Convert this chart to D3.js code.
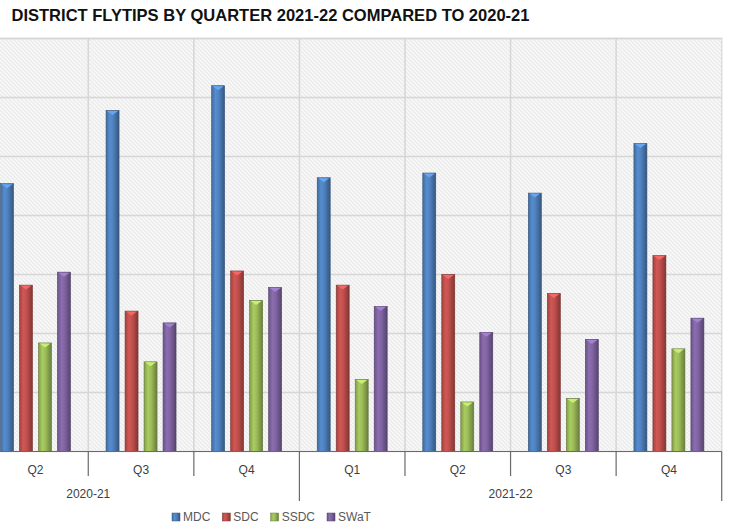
<!DOCTYPE html>
<html>
<head>
<meta charset="utf-8">
<script src="https://cdn.jsdelivr.net/npm/d3@7"></script>
<style>
  html, body { margin: 0; padding: 0; background: #fff; }
  svg { display: block; font-family: "Liberation Sans", Arial, sans-serif; }
</style>
</head>
<body>
<svg id="chart" width="731" height="532"></svg>
<script>
// Quarterly flytip counts per district
const years = ["2020-21", "2021-22"];
const quarters = ["Q2", "Q3", "Q4", "Q1", "Q2", "Q3", "Q4"];
const quarterYear = ["2020-21", "2020-21", "2020-21", "2021-22", "2021-22", "2021-22", "2021-22"];
const series = ["MDC", "SDC", "SSDC", "SWaT"];
const mdc  = [227, 289, 310, 232, 236, 219, 261];
const sdc  = [141, 119, 153, 141, 150, 134, 166];
const ssdc = [92, 76, 128, 61, 42, 45, 87];
const swat = [152, 109, 139, 123, 101, 95, 113];
const seriesValues = [mdc, sdc, ssdc, swat];
const colors = ["#4F81BD", "#C0504D", "#9BBB59", "#8064A2"];
const yTicks = [0, 50, 100, 150, 200, 250, 300, 350];

const title = "DISTRICT FLYTIPS BY QUARTER 2021-22 COMPARED TO 2020-21";

const svg = d3.select("#chart");
const W = 731, H = 532;
const plot = { left: -17.3, right: 721.7, top: 38.5, bottom: 451.5 };

const keys = quarters.map((q, i) => i);
const x0 = d3.scaleBand().domain(keys).range([plot.left, plot.right])
  .paddingInner(0.337).paddingOuter(0.1685);
const x1 = d3.scaleBand().domain(series).range([0, x0.bandwidth()]).paddingInner(0.316);
const y = d3.scaleLinear().domain([0, 350]).range([plot.bottom, plot.top]);

const defs = svg.append("defs");

// diagonal hatch for plot background
const pat = defs.append("pattern").attr("id", "hatch")
  .attr("patternUnits", "userSpaceOnUse").attr("width", 4).attr("height", 4);
pat.append("rect").attr("width", 4).attr("height", 4).attr("fill", "#ebebeb");
pat.append("path").attr("d", "M-1,-1 L5,5 M-1,3 L1,5 M3,-1 L5,1")
  .attr("stroke", "#fafafa").attr("stroke-width", 1.3);

// cylinder-style shading per series
colors.forEach((c, i) => {
  const base = d3.color(c);
  const g = defs.append("linearGradient").attr("id", "grad" + i)
    .attr("x1", "0%").attr("x2", "100%").attr("y1", "0%").attr("y2", "0%");
  g.append("stop").attr("offset", "0%").attr("stop-color", base.darker(0.5));
  g.append("stop").attr("offset", "30%").attr("stop-color", base.brighter(0.25));
  g.append("stop").attr("offset", "55%").attr("stop-color", base);
  g.append("stop").attr("offset", "100%").attr("stop-color", base.darker(1.1));
});

defs.append("clipPath").attr("id", "plotClip")
  .append("rect").attr("x", 0).attr("y", 0).attr("width", W).attr("height", H);

// title
svg.append("text")
  .attr("x", 11.5).attr("y", 21)
  .attr("font-size", 16.5).attr("font-weight", "bold").attr("fill", "#111")
  .attr("textLength", 518).attr("lengthAdjust", "spacingAndGlyphs")
  .text(title);

const g = svg.append("g").attr("clip-path", "url(#plotClip)");

// plot area background
g.append("rect")
  .attr("x", plot.left).attr("y", plot.top)
  .attr("width", plot.right - plot.left).attr("height", plot.bottom - plot.top)
  .attr("fill", "url(#hatch)").attr("stroke", "#dcdcdc").attr("stroke-width", 1.5);

// horizontal gridlines
g.append("g").selectAll("line").data(yTicks.slice(1)).join("line")
  .attr("x1", plot.left).attr("x2", plot.right)
  .attr("y1", d => y(d)).attr("y2", d => y(d))
  .attr("stroke", "#d6d6d6").attr("stroke-width", 1.5);

// vertical gridlines at category boundaries
const half = (x0.step() - x0.bandwidth()) / 2;
const bounds = keys.slice(1).map(k => x0(k) - half);
g.append("g").selectAll("line").data(bounds).join("line")
  .attr("x1", d => d).attr("x2", d => d)
  .attr("y1", plot.top).attr("y2", plot.bottom)
  .attr("stroke", "#d6d6d6").attr("stroke-width", 1.5);

// bars
const barData = [];
keys.forEach(k => series.forEach((s, si) => barData.push({ k, s, si, v: seriesValues[si][k] })));
const bars = g.append("g").selectAll("g").data(barData).join("g");
bars.append("rect")
  .attr("x", d => x0(d.k) + x1(d.s))
  .attr("y", d => y(d.v))
  .attr("width", x1.bandwidth())
  .attr("height", d => y(0) - y(d.v))
  .attr("fill", d => `url(#grad${d.si})`)
  .attr("stroke", d => d3.color(colors[d.si]).darker(1.3))
  .attr("stroke-width", 0.6);
bars.append("path")
  .attr("d", d => {
    const bx = x0(d.k) + x1(d.s), bw = x1.bandwidth(), by = y(d.v);
    return `M${bx + 1},${by + 0.5} L${bx + bw - 1},${by + 0.5} L${bx + bw / 2},${by + 4.5} Z`;
  })
  .attr("fill", d => d3.color(colors[d.si]).brighter(0.7));

// x axis line
const axisColor = "#6a6a6a";
svg.append("line")
  .attr("x1", 0).attr("x2", plot.right)
  .attr("y1", plot.bottom).attr("y2", plot.bottom)
  .attr("stroke", axisColor).attr("stroke-width", 1.2);

// quarter ticks (long where the year changes)
const tickBounds = keys.map(k => x0(k) - half).concat([plot.right]);
svg.append("g").selectAll("line").data(tickBounds).join("line")
  .attr("x1", d => d).attr("x2", d => d)
  .attr("y1", plot.bottom)
  .attr("y2", (d, i) => {
    const before = quarterYear[i - 1], after = quarterYear[i];
    return before !== after ? 501 : 476;
  })
  .attr("stroke", axisColor).attr("stroke-width", 1.2);

// quarter labels
svg.append("g").selectAll("text").data(keys).join("text")
  .attr("x", k => x0(k) + x0.bandwidth() / 2)
  .attr("y", 473.5)
  .attr("text-anchor", "middle").attr("font-size", 12).attr("fill", "#404040")
  .text(k => quarters[k]);

// year labels, centred on each year's four quarters
years.forEach(yr => {
  const idx = keys.filter(k => quarterYear[k] === yr);
  let end = x0(idx[idx.length - 1]) + x0.bandwidth() + half;
  let start = end - 4 * x0.step();
  svg.append("text")
    .attr("x", (start + end) / 2).attr("y", 497.5)
    .attr("text-anchor", "middle").attr("font-size", 12).attr("fill", "#404040")
    .text(yr);
});

// legend
const legend = svg.append("g").attr("transform", "translate(172,517)");
let lx = 0;
series.forEach((s, i) => {
  const it = legend.append("g").attr("transform", `translate(${lx},0)`);
  it.append("rect").attr("x", 0).attr("y", -4).attr("width", 8).attr("height", 8)
    .attr("fill", `url(#grad${i})`).attr("stroke", d3.color(colors[i]).darker(1)).attr("stroke-width", 0.5);
  const t = it.append("text").attr("x", 11).attr("y", 4.3)
    .attr("font-size", 12).attr("fill", "#595959").text(s);
  lx += 11 + t.node().getComputedTextLength() + 12;
});
</script>
</body>
</html>
